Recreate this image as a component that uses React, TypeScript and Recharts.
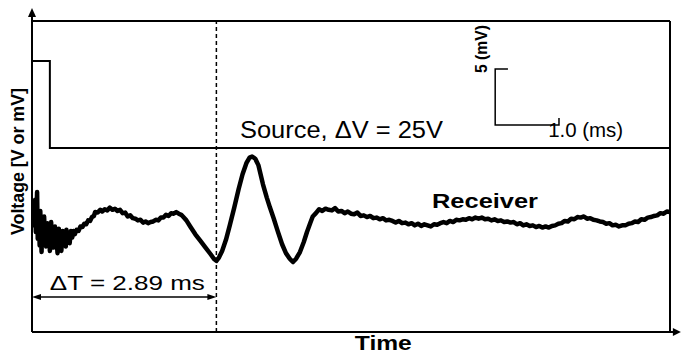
import React from 'react';
import { LineChart, Line, XAxis, YAxis, ReferenceLine, ReferenceDot } from 'recharts';

const FONT = '"Liberation Sans", Arial, Helvetica, sans-serif';

// time in ms, voltage in display units (mV scale)
const sourcePulse: [number, number][] = [
  [0, 24.4], [0.28, 24.4], [0.28, 16.57], [10, 16.57],
];

const scaleBar: [number, number][] = [
  [7.46, 23.68], [7.26, 23.68], [7.26, 18.64], [8.26, 18.64], [8.26, 19.27],
];

const receiver: [number, number][] = [
  [0, 10.5], [0.02, 11.8], [0.03, 9.6], [0.05, 11.9], [0.06, 9.0], [0.08, 12.6], [0.09, 8.4],
  [0.1, 10.6], [0.11, 9.8], [0.12, 7.8], [0.13, 10.9], [0.15, 7.2], [0.16, 9.9], [0.17, 8.1],
  [0.19, 10.4], [0.2, 8.9], [0.21, 9.6], [0.22, 7.7], [0.24, 9.8], [0.25, 8.3], [0.27, 9.4],
  [0.28, 7.3], [0.3, 9.9], [0.31, 8.6], [0.33, 9.2], [0.34, 7.6], [0.36, 9.5], [0.37, 8.1],
  [0.38, 8.9], [0.4, 7.1], [0.42, 9.3], [0.43, 7.9], [0.45, 8.8], [0.46, 7.3], [0.48, 9.1],
  [0.49, 8.0], [0.51, 8.6], [0.53, 7.7], [0.54, 9.2], [0.56, 8.3], [0.58, 8.9], [0.59, 8.0],
  [0.61, 9.1], [0.63, 8.5], [0.65, 9.1], [0.67, 8.8], [0.7, 9.2],
  [0.73, 9.1], [0.76, 9.5], [0.79, 9.45], [0.82, 9.75], [0.85, 9.7], [0.88, 10.05], [0.91, 10.0],
  [0.94, 10.35], [0.97, 10.45], [0.99, 10.8], [1.03, 10.75], [1.07, 11.0], [1.1, 10.85], [1.14, 11.05],
  [1.18, 10.95], [1.22, 11.2], [1.26, 11.0], [1.3, 11.1], [1.34, 10.9], [1.38, 11.0], [1.42, 10.7],
  [1.46, 10.75], [1.5, 10.4], [1.54, 10.5], [1.58, 10.25], [1.62, 10.2], [1.66, 10.05], [1.7, 10.1],
  [1.74, 9.85], [1.78, 9.95], [1.82, 9.8], [1.86, 9.9], [1.9, 9.95], [1.94, 10.1], [1.98, 10.05],
  [2.02, 10.3], [2.06, 10.3], [2.1, 10.55], [2.14, 10.45], [2.18, 10.7], [2.22, 10.65], [2.26, 10.8],
  [2.3, 10.65], [2.34, 10.55], [2.38, 10.3], [2.42, 10.05],
  [2.48, 9.5], [2.56, 8.8], [2.64, 8.2], [2.72, 7.6], [2.8, 7.0], [2.85, 6.6], [2.89, 6.4],
  [2.93, 6.7], [2.98, 7.3], [3.04, 8.3], [3.1, 9.6], [3.17, 11.2], [3.24, 12.9], [3.3, 14.2],
  [3.36, 15.2], [3.41, 15.7], [3.45, 15.8], [3.5, 15.6], [3.55, 15.0], [3.62, 13.3], [3.68, 12.1],
  [3.73, 11.2], [3.79, 10.2], [3.85, 9.1], [3.92, 7.9], [3.98, 7.1], [4.04, 6.6], [4.09, 6.3],
  [4.14, 6.6], [4.2, 7.2], [4.26, 8.1], [4.31, 9.0], [4.36, 9.8], [4.4, 10.4],
  [4.45, 10.7], [4.5, 11.05], [4.55, 10.9], [4.6, 11.1], [4.65, 11.0], [4.7, 10.95], [4.75, 11.15],
  [4.8, 10.85], [4.85, 10.9], [4.9, 10.7], [4.95, 10.85], [5.0, 10.65], [5.05, 10.6], [5.1, 10.75],
  [5.15, 10.45], [5.2, 10.5], [5.25, 10.35], [5.3, 10.45], [5.35, 10.25], [5.4, 10.3], [5.45, 10.15],
  [5.5, 10.25], [5.55, 10.05], [5.6, 10.1], [5.65, 10.0], [5.7, 9.85], [5.75, 10.0], [5.8, 9.8],
  [5.85, 9.85], [5.9, 9.7], [5.95, 9.8], [6.0, 9.6], [6.05, 9.75], [6.1, 9.55], [6.15, 9.7],
  [6.2, 9.6], [6.25, 9.5], [6.3, 9.7], [6.35, 9.65], [6.4, 9.8], [6.45, 9.9], [6.5, 9.8],
  [6.55, 10.0], [6.6, 9.9], [6.65, 10.1], [6.7, 10.05], [6.75, 10.15], [6.8, 10.1], [6.85, 10.25],
  [6.9, 10.15], [6.95, 10.3], [7.0, 10.2], [7.05, 10.3], [7.1, 10.15], [7.15, 10.2], [7.2, 10.05],
  [7.25, 10.15], [7.3, 10.0], [7.35, 10.05], [7.4, 9.9], [7.45, 9.95], [7.5, 9.85], [7.55, 9.9],
  [7.6, 9.7], [7.65, 9.8], [7.7, 9.6], [7.75, 9.7], [7.8, 9.55], [7.85, 9.6], [7.9, 9.45],
  [7.95, 9.55], [8.0, 9.4], [8.05, 9.5], [8.1, 9.4], [8.15, 9.55], [8.2, 9.6], [8.25, 9.75],
  [8.3, 9.8], [8.35, 10.0], [8.4, 9.95], [8.45, 10.2], [8.5, 10.15], [8.55, 10.35], [8.6, 10.3],
  [8.65, 10.4], [8.7, 10.2], [8.75, 10.25], [8.8, 10.1], [8.85, 10.05], [8.9, 9.95], [8.95, 9.9],
  [9.0, 9.75], [9.05, 9.8], [9.1, 9.6], [9.15, 9.65], [9.2, 9.5], [9.25, 9.6], [9.3, 9.6],
  [9.35, 9.75], [9.4, 9.8], [9.45, 9.95], [9.5, 9.9], [9.55, 10.15], [9.6, 10.1], [9.65, 10.3],
  [9.7, 10.35], [9.75, 10.45], [9.8, 10.5], [9.85, 10.7], [9.9, 10.65], [9.95, 10.85], [10.0, 10.8],
];

const deltaT = 2.89;
const deltaTArrowV = 3.15;

const X_MAX = 10;
const Y_MAX = 28;

type Lbl = { text: string; t: number; v: number; size: number; bold: boolean; len: number; rotate?: boolean };
const textLabels: Lbl[] = [
  { text: 'Source, \u0394V = 25V', t: 3.26, v: 17.47, size: 23, bold: false, len: 203 },
  { text: 'Receiver', t: 6.27, v: 11.16, size: 21, bold: true, len: 106 },
  { text: '\u0394T = 2.89 ms', t: 0.28, v: 3.78, size: 21, bold: false, len: 155 },
  { text: '1.0 (ms)', t: 8.09, v: 17.56, size: 20, bold: false, len: 75 },
  { text: '5 (mV)', t: 7.13, v: 23.32, size: 16, bold: true, len: 48, rotate: true },
  { text: 'Voltage [V or mV]', t: -0.125, v: 8.73, size: 18, bold: true, len: 147, rotate: true },
  { text: 'Time', t: 5.06, v: -1.62, size: 20, bold: true, len: 57 },
];

const toRows = (pairs: [number, number][]) => pairs.map(([t, v]) => ({ t, v }));

const textShape = (l: Lbl) => (p: any) => (
  <text
    x={p.cx}
    y={p.cy}
    fontFamily={FONT}
    fontSize={l.size}
    fontWeight={l.bold ? 'bold' : 'normal'}
    fill="#000"
    textAnchor="start"
    textLength={l.len}
    lengthAdjust="spacingAndGlyphs"
    transform={l.rotate ? `rotate(-90 ${p.cx} ${p.cy})` : undefined}
  >
    {l.text}
  </text>
);

const arrowUp = (p: any) => (
  <polygon points={`${p.cx},${p.cy} ${p.cx - 4},${p.cy + 9} ${p.cx + 4},${p.cy + 9}`} fill="#000" />
);
const arrowRightBig = (p: any) => (
  <polygon points={`${p.cx},${p.cy} ${p.cx - 8},${p.cy - 4} ${p.cx - 8},${p.cy + 4}`} fill="#000" />
);
const arrowLeft = (p: any) => (
  <polygon points={`${p.cx},${p.cy} ${p.cx + 9},${p.cy - 3} ${p.cx + 9},${p.cy + 3}`} fill="#000" />
);
const arrowRight = (p: any) => (
  <polygon points={`${p.cx},${p.cy} ${p.cx - 9},${p.cy - 3} ${p.cx - 9},${p.cy + 3}`} fill="#000" />
);

export default function App() {
  return (
    <div style={{ position: 'absolute', left: 0, top: 0, width: 681, height: 359, background: '#fff' }}>
      <LineChart width={681} height={359} margin={{ top: 21, right: 11, bottom: 27, left: 32 }}>
        <XAxis type="number" dataKey="t" domain={[0, X_MAX]} allowDataOverflow hide />
        <YAxis type="number" dataKey="v" domain={[0, Y_MAX]} allowDataOverflow hide />

        {/* frame */}
        <ReferenceLine segment={[{ x: 0, y: Y_MAX }, { x: X_MAX, y: Y_MAX }]} stroke="#000" strokeWidth={2} ifOverflow="visible" />
        <ReferenceLine segment={[{ x: X_MAX, y: 0 }, { x: X_MAX, y: Y_MAX }]} stroke="#000" strokeWidth={2} ifOverflow="visible" />
        <ReferenceLine segment={[{ x: 0, y: 0 }, { x: 0, y: 28.6 }]} stroke="#000" strokeWidth={2} ifOverflow="visible" />
        <ReferenceLine segment={[{ x: 0, y: 0 }, { x: 10.08, y: 0 }]} stroke="#000" strokeWidth={2} ifOverflow="visible" />
        <ReferenceDot x={0} y={29.17} r={1} ifOverflow="visible" shape={arrowUp} />
        <ReferenceDot x={10.17} y={0} r={1} ifOverflow="visible" shape={arrowRightBig} />

        {/* arrival time marker */}
        <ReferenceLine x={deltaT} stroke="#000" strokeWidth={1.5} strokeDasharray="4 3" />
        <ReferenceLine segment={[{ x: 0.05, y: deltaTArrowV }, { x: deltaT - 0.05, y: deltaTArrowV }]} stroke="#000" strokeWidth={1.5} />
        <ReferenceDot x={0} y={deltaTArrowV} r={1} ifOverflow="visible" shape={arrowLeft} />
        <ReferenceDot x={deltaT} y={deltaTArrowV} r={1} ifOverflow="visible" shape={arrowRight} />

        <Line data={toRows(sourcePulse)} dataKey="v" type="linear" stroke="#000" strokeWidth={2} dot={false} activeDot={false} isAnimationActive={false} />
        <Line data={toRows(scaleBar)} dataKey="v" type="linear" stroke="#000" strokeWidth={1.5} dot={false} activeDot={false} isAnimationActive={false} />
        <Line data={toRows(receiver)} dataKey="v" type="linear" stroke="#000" strokeWidth={4.5} strokeLinejoin="round" dot={false} activeDot={false} isAnimationActive={false} />

        {textLabels.map((l) => (
          <ReferenceDot key={l.text} x={l.t} y={l.v} r={1} ifOverflow="visible" shape={textShape(l)} />
        ))}
      </LineChart>
    </div>
  );
}
